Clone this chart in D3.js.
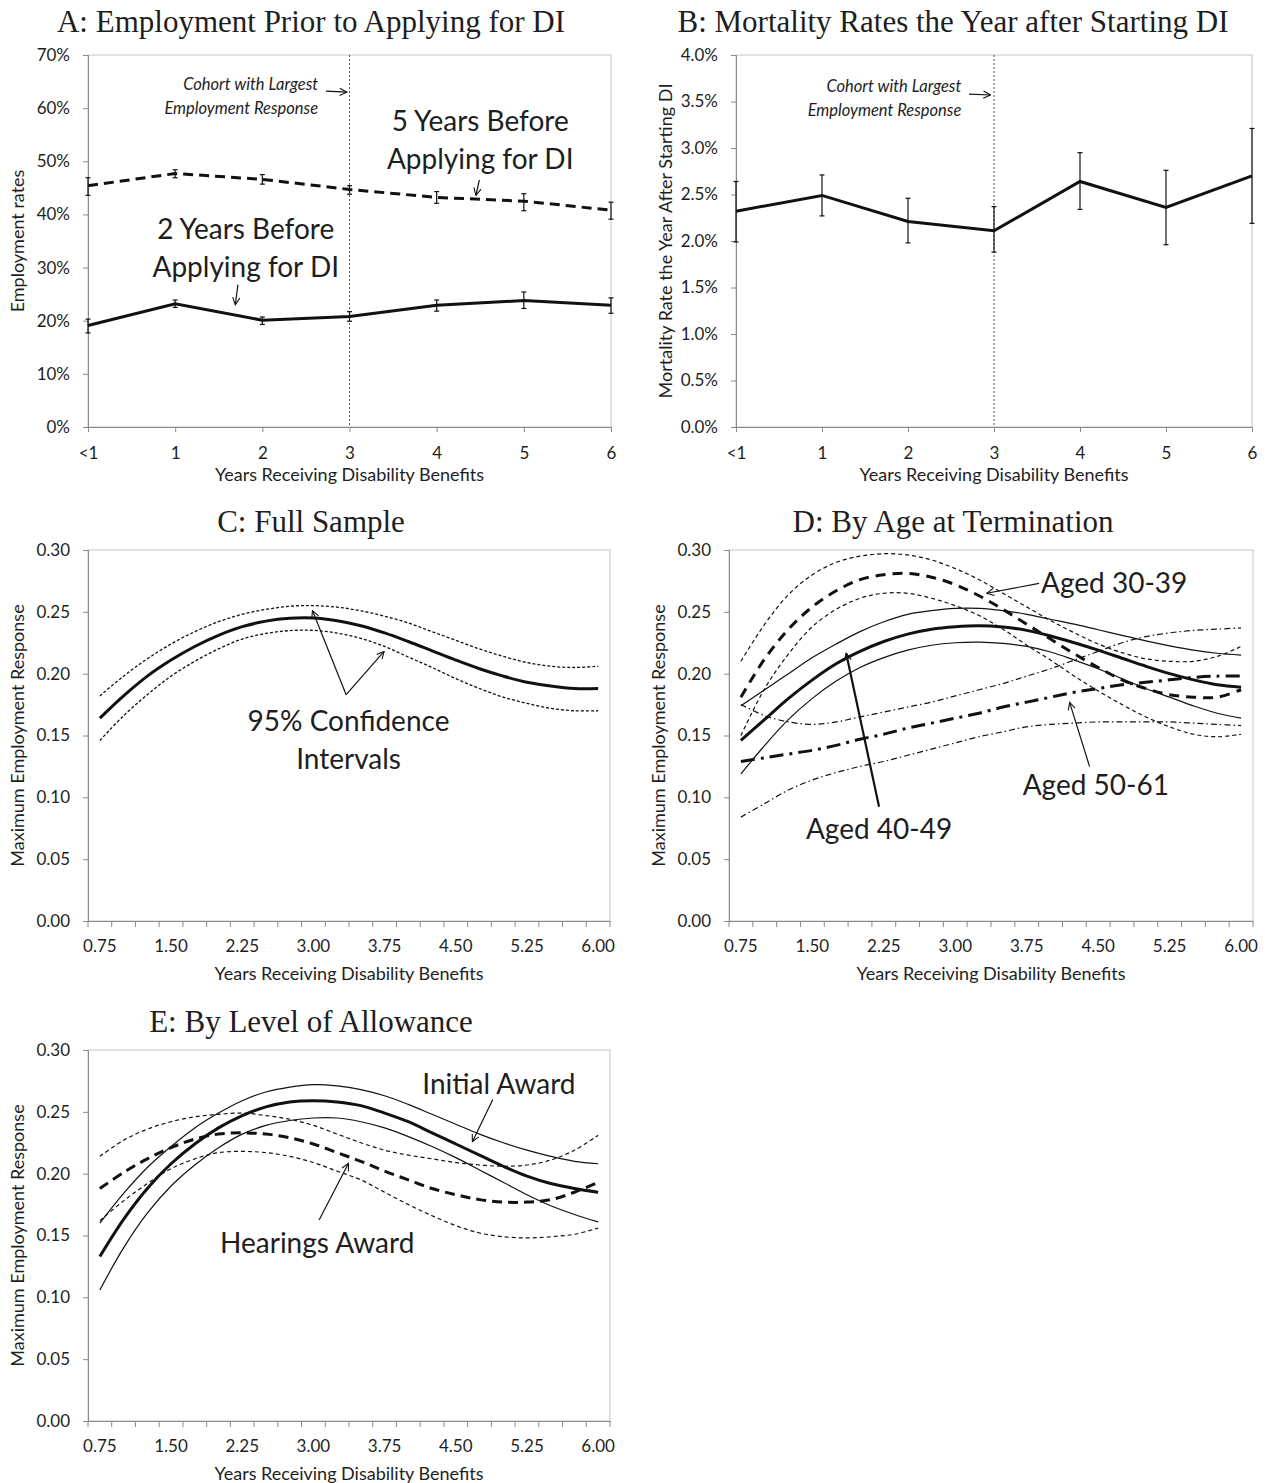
<!DOCTYPE html>
<html>
<head>
<meta charset="utf-8">
<script src="https://cdn.jsdelivr.net/npm/d3@7"></script>
<style>
  body { margin: 0; background: #fff; }
  svg text { font-family: Lato, "Open Sans", sans-serif; fill: #1e1e1e; }
  .title { font-family: "Liberation Serif", "Times New Roman", serif; font-size: 31px; }
</style>
</head>
<body>
<svg id="fig" width="1271" height="1483"></svg>
<script>
// ---- Panel A: employment prior to applying ----
const yearLabels = ["<1", "1", "2", "3", "4", "5", "6"];
const emp5yr   = [0.454, 0.477, 0.466, 0.447, 0.432, 0.425, 0.408];
const emp5yrHi = [0.469, 0.484, 0.475, 0.454, 0.443, 0.439, 0.423];
const emp5yrLo = [0.436, 0.469, 0.457, 0.438, 0.421, 0.407, 0.391];
const emp2yr   = [0.191, 0.232, 0.201, 0.208, 0.229, 0.238, 0.229];
const emp2yrHi = [0.203, 0.239, 0.207, 0.217, 0.239, 0.254, 0.243];
const emp2yrLo = [0.177, 0.225, 0.193, 0.199, 0.218, 0.223, 0.214];
const empTicks = [0, 0.1, 0.2, 0.3, 0.4, 0.5, 0.6, 0.7];

// ---- Panel B: mortality ----
const mortality = [0.0232, 0.0249, 0.0221, 0.0211, 0.0264, 0.0236, 0.0270];
const mortHi    = [0.0264, 0.0271, 0.0246, 0.0237, 0.0295, 0.0276, 0.0321];
const mortLo    = [0.0199, 0.0227, 0.0198, 0.0188, 0.0234, 0.0196, 0.0219];
const mortTicks = [0, 0.005, 0.01, 0.015, 0.02, 0.025, 0.03, 0.035, 0.04];

// ---- Panels C-E: maximum employment response ----
const respYears = ["0.75", "1.00", "1.25", "1.50", "1.75", "2.00", "2.25", "2.50", "2.75", "3.00", "3.25",
                   "3.50", "3.75", "4.00", "4.25", "4.50", "4.75", "5.00", "5.25", "5.50", "5.75", "6.00"];
const respLabelYears = ["0.75", "1.50", "2.25", "3.00", "3.75", "4.50", "5.25", "6.00"];
const respTicks = [0, 0.05, 0.10, 0.15, 0.20, 0.25, 0.30];

// C: full sample
const fullMain  = [0.164, 0.182, 0.198, 0.211, 0.222, 0.231, 0.238, 0.2425, 0.2448, 0.245, 0.2428,
                   0.2388, 0.233, 0.226, 0.2185, 0.211, 0.204, 0.198, 0.193, 0.190, 0.188, 0.188];
const fullUpper = [0.182, 0.198, 0.212, 0.224, 0.234, 0.242, 0.248, 0.252, 0.2545, 0.255, 0.2538,
                   0.2508, 0.2465, 0.241, 0.234, 0.227, 0.220, 0.214, 0.209, 0.206, 0.205, 0.206];
const fullLower = [0.146, 0.166, 0.183, 0.198, 0.210, 0.220, 0.228, 0.2325, 0.2348, 0.235, 0.2328,
                   0.2285, 0.222, 0.2135, 0.205, 0.196, 0.188, 0.181, 0.176, 0.172, 0.170, 0.170];

// D: by age at termination
const age3039     = [0.181, 0.212, 0.236, 0.254, 0.267, 0.276, 0.280, 0.281, 0.278, 0.272, 0.263,
                     0.252, 0.240, 0.228, 0.216, 0.205, 0.195, 0.188, 0.183, 0.181, 0.181, 0.187];
const age3039Upper = [0.210, 0.240, 0.264, 0.280, 0.290, 0.295, 0.297, 0.296, 0.292, 0.285, 0.276,
                      0.265, 0.254, 0.243, 0.233, 0.224, 0.217, 0.212, 0.210, 0.210, 0.214, 0.222];
const age3039Lower = [0.150, 0.188, 0.216, 0.238, 0.252, 0.261, 0.265, 0.265, 0.261, 0.255, 0.247,
                      0.236, 0.223, 0.211, 0.198, 0.186, 0.175, 0.165, 0.157, 0.151, 0.149, 0.151];
const age4049      = [0.146, 0.163, 0.180, 0.195, 0.208, 0.218, 0.226, 0.232, 0.236, 0.238, 0.2388,
                      0.2378, 0.235, 0.2305, 0.225, 0.219, 0.2125, 0.206, 0.200, 0.195, 0.191, 0.189];
const age4049Upper = [0.174, 0.187, 0.200, 0.213, 0.224, 0.234, 0.242, 0.248, 0.251, 0.2528, 0.2528,
                      0.251, 0.248, 0.244, 0.240, 0.2355, 0.231, 0.2265, 0.2225, 0.219, 0.2165, 0.215];
const age4049Lower = [0.119, 0.142, 0.163, 0.180, 0.194, 0.205, 0.213, 0.219, 0.223, 0.225, 0.2255,
                      0.2245, 0.222, 0.2175, 0.211, 0.204, 0.196, 0.188, 0.181, 0.174, 0.168, 0.164];
const age5061      = [0.129, 0.132, 0.135, 0.138, 0.142, 0.147, 0.151, 0.156, 0.160, 0.164, 0.168,
                      0.173, 0.177, 0.181, 0.185, 0.188, 0.191, 0.193, 0.195, 0.197, 0.198, 0.198];
const age5061Upper = [0.175, 0.166, 0.161, 0.159, 0.161, 0.165, 0.169, 0.173, 0.177, 0.182, 0.187,
                      0.192, 0.198, 0.204, 0.211, 0.218, 0.225, 0.230, 0.233, 0.235, 0.236, 0.237];
const age5061Lower = [0.084, 0.095, 0.106, 0.114, 0.120, 0.125, 0.129, 0.134, 0.139, 0.144, 0.149,
                      0.153, 0.157, 0.159, 0.160, 0.161, 0.161, 0.161, 0.161, 0.160, 0.159, 0.158];

// E: by level of allowance
const initialAward = [0.133, 0.163, 0.188, 0.208, 0.224, 0.237, 0.247, 0.254, 0.258, 0.259, 0.258,
                      0.255, 0.249, 0.242, 0.233, 0.224, 0.215, 0.206, 0.198, 0.192, 0.188, 0.185];
const initialUpper = [0.160, 0.184, 0.205, 0.222, 0.237, 0.249, 0.259, 0.266, 0.270, 0.272, 0.271,
                      0.268, 0.263, 0.256, 0.248, 0.240, 0.232, 0.225, 0.219, 0.214, 0.210, 0.208];
const initialLower = [0.106, 0.140, 0.168, 0.190, 0.207, 0.221, 0.232, 0.239, 0.243, 0.245, 0.245,
                      0.242, 0.237, 0.230, 0.222, 0.213, 0.203, 0.193, 0.183, 0.174, 0.167, 0.161];
const hearingsAward = [0.188, 0.201, 0.212, 0.221, 0.228, 0.232, 0.233, 0.232, 0.229, 0.224, 0.217,
                       0.210, 0.202, 0.195, 0.188, 0.183, 0.179, 0.177, 0.177, 0.179, 0.185, 0.193];
const hearingsUpper = [0.214, 0.227, 0.236, 0.242, 0.246, 0.248, 0.249, 0.247, 0.244, 0.239, 0.232,
                       0.225, 0.219, 0.215, 0.212, 0.209, 0.207, 0.206, 0.207, 0.211, 0.219, 0.231];
const hearingsLower = [0.162, 0.178, 0.192, 0.204, 0.212, 0.217, 0.218, 0.217, 0.214, 0.209, 0.202,
                       0.195, 0.185, 0.175, 0.166, 0.158, 0.152, 0.149, 0.148, 0.149, 0.151, 0.156];

const svg = d3.select('#fig');
const AXIS_COLOR = '#8a8a8a';
const INK = '#111';

// open arrow head for the annotations
svg.append('defs').append('marker')
  .attr('id', 'arr').attr('viewBox', '0 0 10 10').attr('refX', 9).attr('refY', 5)
  .attr('markerWidth', 9).attr('markerHeight', 9).attr('markerUnits', 'userSpaceOnUse')
  .attr('orient', 'auto')
  .append('path').attr('d', 'M1,1 L9,5 L1,9').attr('fill', 'none').attr('stroke', INK).attr('stroke-width', 1.2);

function styleAxis(g) {
  g.attr('font-family', 'Lato, sans-serif').attr('font-size', 17);
  g.select('.domain').attr('stroke', AXIS_COLOR);
  g.selectAll('.tick line').attr('stroke', AXIS_COLOR);
  g.selectAll('.tick text').attr('fill', '#1e1e1e');
}

function frame(box) {
  svg.append('rect')
    .attr('x', box.x0).attr('y', box.y0)
    .attr('width', box.x1 - box.x0).attr('height', box.y1 - box.y0)
    .attr('fill', 'none').attr('stroke', '#c4c4c4');
}

function title(text, x, y) {
  svg.append('text').attr('class', 'title').attr('x', x).attr('y', y).attr('text-anchor', 'middle').text(text);
}

function axisTitles(box, xText, yText, xGap) {
  svg.append('text')
    .attr('x', (box.x0 + box.x1) / 2).attr('y', box.y1 + xGap)
    .attr('text-anchor', 'middle').attr('font-size', 18).text(xText);
  svg.append('text')
    .attr('transform', `translate(${box.x0 - 64},${(box.y0 + box.y1) / 2}) rotate(-90)`)
    .attr('text-anchor', 'middle').attr('font-size', 18).text(yText);
}

function arrow(x1, y1, x2, y2, w) {
  svg.append('line')
    .attr('x1', x1).attr('y1', y1).attr('x2', x2).attr('y2', y2)
    .attr('stroke', INK).attr('stroke-width', w || 1.2).attr('marker-end', 'url(#arr)');
}

function note(lines, x, y, opts) {
  const o = Object.assign({ size: 28, gap: 38, anchor: 'middle', italic: false }, opts);
  lines.forEach((t, i) => {
    svg.append('text')
      .attr('x', x).attr('y', y + i * o.gap)
      .attr('dominant-baseline', 'central')
      .attr('text-anchor', o.anchor).attr('font-size', o.size)
      .attr('font-style', o.italic ? 'italic' : 'normal')
      .text(t);
  });
}

// ---------- panels A and B: point series with error bars ----------
function errorPanel(box, yMax, ticks, fmt, series) {
  const x = d3.scalePoint().domain(yearLabels).range([box.x0, box.x1]);
  const y = d3.scaleLinear().domain([0, yMax]).range([box.y1, box.y0]);
  frame(box);

  svg.append('g').attr('transform', `translate(${box.x0},0)`)
    .call(d3.axisLeft(y).tickValues(ticks).tickFormat(d3.format(fmt)).tickSize(5).tickPadding(13))
    .call(styleAxis);
  svg.append('g').attr('transform', `translate(0,${box.y1})`)
    .call(d3.axisBottom(x).tickSize(5).tickPadding(15))
    .call(styleAxis);

  // cohort marker at year 3
  svg.append('line')
    .attr('x1', x('3')).attr('x2', x('3')).attr('y1', box.y0).attr('y2', box.y1)
    .attr('stroke', '#555').attr('stroke-width', 1).attr('stroke-dasharray', '2,2');

  const line = d3.line().x((d, i) => x(yearLabels[i])).y(d => y(d));
  series.forEach(s => {
    svg.append('path').datum(s.values).attr('d', line)
      .attr('fill', 'none').attr('stroke', INK).attr('stroke-width', 3)
      .attr('stroke-dasharray', s.dash || null);
    const bars = svg.append('g').attr('stroke', INK).attr('stroke-width', 1.2);
    yearLabels.forEach((lab, i) => {
      const cx = x(lab);
      bars.append('line').attr('x1', cx).attr('x2', cx).attr('y1', y(s.lo[i])).attr('y2', y(s.hi[i]));
      [s.lo[i], s.hi[i]].forEach(v => {
        bars.append('line').attr('x1', cx - s.cap).attr('x2', cx + s.cap).attr('y1', y(v)).attr('y2', y(v));
      });
    });
  });
  return { x: d3.scaleLinear().domain([0, 6]).range([box.x0, box.x1]), y };
}

// ---------- panels C, D, E: smooth curves on a category axis ----------
function curvePanel(box, series) {
  const xb = d3.scaleBand().domain(respYears).range([box.x0, box.x1]);
  const xc = d => xb(d) + xb.bandwidth() / 2;
  const y = d3.scaleLinear().domain([0, 0.30]).range([box.y1, box.y0]);
  frame(box);

  svg.append('g').attr('transform', `translate(${box.x0},0)`)
    .call(d3.axisLeft(y).tickValues(respTicks).tickFormat(d3.format('.2f')).tickSize(5).tickPadding(13))
    .call(styleAxis);

  const bottom = svg.append('g').attr('transform', `translate(0,${box.y1})`);
  bottom.call(d3.axisBottom(xb).tickValues(respLabelYears).tickSize(0).tickPadding(19)).call(styleAxis);
  // tick marks sit on the category boundaries
  bottom.selectAll('line.bound')
    .data(respYears.map(d => xb(d)).concat([box.x1]))
    .enter().append('line').attr('class', 'bound')
    .attr('x1', d => d).attr('x2', d => d).attr('y1', 0).attr('y2', 6)
    .attr('stroke', AXIS_COLOR);

  const line = d3.line().x((d, i) => xc(respYears[i])).y(d => y(d)).curve(d3.curveCatmullRom);
  series.forEach(s => {
    svg.append('path').datum(s.values).attr('d', line)
      .attr('fill', 'none').attr('stroke', INK).attr('stroke-width', s.width)
      .attr('stroke-dasharray', s.dash || null);
  });
  return {
    x: d3.scaleLinear().domain([0.75, 6.0]).range([xc('0.75'), xc('6.00')]),
    y
  };
}

// ===== A =====
const boxA = { x0: 88, x1: 611, y0: 55, y1: 427 };
title('A: Employment Prior to Applying for DI', 311, 32);
const a = errorPanel(boxA, 0.7, empTicks, '.0%', [
  { values: emp5yr, lo: emp5yrLo, hi: emp5yrHi, dash: '10,6', cap: 2.5 },
  { values: emp2yr, lo: emp2yrLo, hi: emp2yrHi, cap: 2.5 }
]);
axisTitles(boxA, 'Years Receiving Disability Benefits', 'Employment rates', 54);
note(['Cohort with Largest', 'Employment Response'], a.x(2.64), a.y(0.645), { size: 16.5, gap: 24, anchor: 'end', italic: true });
arrow(a.x(2.73), a.y(0.632), a.x(2.97), a.y(0.630));
note(['5 Years Before', 'Applying for DI'], a.x(4.5), a.y(0.578), { gap: 38 });
arrow(a.x(4.49), a.y(0.465), a.x(4.45), a.y(0.436));
note(['2 Years Before', 'Applying for DI'], a.x(1.81), a.y(0.374), { gap: 38 });
arrow(a.x(1.72), a.y(0.268), a.x(1.69), a.y(0.230));

// ===== B =====
const boxB = { x0: 736, x1: 1252, y0: 55, y1: 427 };
title('B: Mortality Rates the Year after Starting DI', 953, 32);
const b = errorPanel(boxB, 0.04, mortTicks, '.1%', [
  { values: mortality, lo: mortLo, hi: mortHi, cap: 2.5 }
]);
axisTitles(boxB, 'Years Receiving Disability Benefits', 'Mortality Rate the Year  After Starting DI', 54);
note(['Cohort with Largest', 'Employment Response'], b.x(2.62), b.y(0.0367), { size: 16.5, gap: 24, anchor: 'end', italic: true });
arrow(b.x(2.71), b.y(0.0358), b.x(2.96), b.y(0.0357));

// ===== C =====
const boxC = { x0: 88, x1: 610, y0: 550, y1: 921 };
title('C: Full Sample', 311, 532);
const c = curvePanel(boxC, [
  { values: fullUpper, width: 1.3, dash: '3,2' },
  { values: fullLower, width: 1.3, dash: '3,2' },
  { values: fullMain, width: 3 }
]);
axisTitles(boxC, 'Years Receiving Disability Benefits', 'Maximum Employment Response', 59);
note(['95% Confidence', 'Intervals'], c.x(3.37), c.y(0.1625), { gap: 38 });
arrow(c.x(3.345), c.y(0.183), c.x(2.99), c.y(0.251));
arrow(c.x(3.345), c.y(0.183), c.x(3.745), c.y(0.218));

// ===== D =====
const boxD = { x0: 729, x1: 1253, y0: 550, y1: 921 };
title('D: By Age at Termination', 953, 532);
const dP = curvePanel(boxD, [
  { values: age3039Upper, width: 1.2, dash: '4,3' },
  { values: age3039Lower, width: 1.2, dash: '4,3' },
  { values: age4049Upper, width: 1.2 },
  { values: age4049Lower, width: 1.2 },
  { values: age5061Upper, width: 1.2, dash: '6,3,1.5,3' },
  { values: age5061Lower, width: 1.2, dash: '6,3,1.5,3' },
  { values: age3039, width: 3, dash: '10,7' },
  { values: age4049, width: 3 },
  { values: age5061, width: 3, dash: '14,6,3,6' }
]);
axisTitles(boxD, 'Years Receiving Disability Benefits', 'Maximum Employment Response', 59);
note(['Aged 30-39'], dP.x(3.9), dP.y(0.274), { anchor: 'start' });
arrow(dP.x(3.88), dP.y(0.273), dP.x(3.33), dP.y(0.265));
note(['Aged 50-61'], dP.x(4.475), dP.y(0.1108));
arrow(dP.x(4.41), dP.y(0.1248), dP.x(4.20), dP.y(0.1768));
note(['Aged 40-49'], dP.x(2.2), dP.y(0.0752));
arrow(dP.x(2.2), dP.y(0.0924), dP.x(1.855), dP.y(0.2165), 2.2);

// ===== E =====
const boxE = { x0: 88, x1: 610, y0: 1050, y1: 1421 };
title('E: By Level of Allowance', 311, 1032);
const e = curvePanel(boxE, [
  { values: hearingsUpper, width: 1.2, dash: '4,3' },
  { values: hearingsLower, width: 1.2, dash: '4,3' },
  { values: initialUpper, width: 1.2 },
  { values: initialLower, width: 1.2 },
  { values: hearingsAward, width: 3, dash: '10,6' },
  { values: initialAward, width: 3 }
]);
axisTitles(boxE, 'Years Receiving Disability Benefits', 'Maximum Employment Response', 59);
note(['Initial Award'], e.x(4.955), e.y(0.2733));
arrow(e.x(4.89), e.y(0.260), e.x(4.675), e.y(0.2258));
note(['Hearings Award'], e.x(3.04), e.y(0.1447));
arrow(e.x(3.06), e.y(0.1625), e.x(3.37), e.y(0.2084));
</script>
</body>
</html>
